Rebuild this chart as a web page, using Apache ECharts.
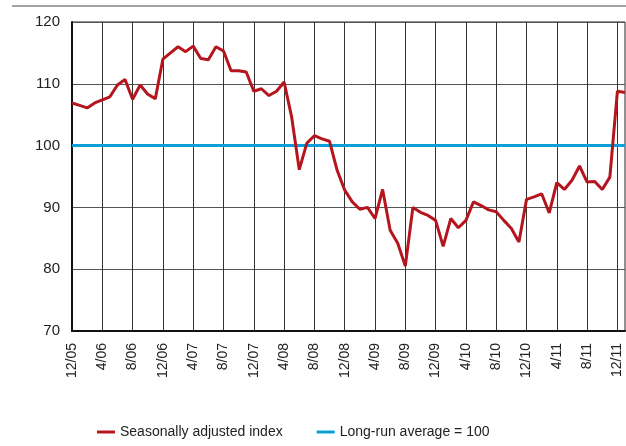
<!DOCTYPE html>
<html>
<head>
<meta charset="utf-8">
<script src="https://cdn.jsdelivr.net/npm/echarts@6/dist/echarts.min.js"></script>
<style>
  html, body { margin: 0; padding: 0; background: #fff; }
  #chart { width: 626px; height: 446px; }
</style>
</head>
<body>
<div id="chart"></div>
<script>
// monthly, 12/05 .. 1/12
var months = [
  '12/05', '1/06', '2/06', '3/06', '4/06', '5/06', '6/06', '7/06', '8/06', '9/06', '10/06', '11/06',
  '12/06', '1/07', '2/07', '3/07', '4/07', '5/07', '6/07', '7/07', '8/07', '9/07', '10/07', '11/07',
  '12/07', '1/08', '2/08', '3/08', '4/08', '5/08', '6/08', '7/08', '8/08', '9/08', '10/08', '11/08',
  '12/08', '1/09', '2/09', '3/09', '4/09', '5/09', '6/09', '7/09', '8/09', '9/09', '10/09', '11/09',
  '12/09', '1/10', '2/10', '3/10', '4/10', '5/10', '6/10', '7/10', '8/10', '9/10', '10/10', '11/10',
  '12/10', '1/11', '2/11', '3/11', '4/11', '5/11', '6/11', '7/11', '8/11', '9/11', '10/11', '11/11',
  '12/11', '1/12'
];

var seasonallyAdjusted = [
  106.9, 106.5, 106.1, 106.9, 107.4, 107.9, 109.8, 110.7, 107.5, 109.8, 108.3, 107.6,
  114.0, 115.0, 116.0, 115.2, 116.1, 114.1, 113.9, 116.0, 115.3, 112.1, 112.1, 111.9,
  108.8, 109.2, 108.1, 108.8, 110.3, 104.6, 96.1, 100.4, 101.6, 101.1, 100.7, 96.0,
  92.8, 90.9, 89.7, 90.0, 88.2, 92.9, 86.3, 84.2, 80.5, 90.0, 89.2, 88.7,
  87.9, 83.7, 88.2, 86.7, 87.9, 90.9, 90.3, 89.6, 89.3, 87.9, 86.6, 84.4,
  91.3, 91.7, 92.2, 89.1, 94.0, 92.9, 94.4, 96.7, 94.1, 94.2, 92.9, 94.9,
  108.8, 108.6
];

var longRunAverage = 100;

var yTicks = { min: 70, max: 120, step: 10 };

var font = 'Liberation Sans, Arial, sans-serif';

var chart = echarts.init(document.getElementById('chart'));

var option = {
  animation: false,
  textStyle: { fontFamily: font },
  grid: {
    left: 72, right: 1, top: 22, height: 309,
    show: true, borderColor: '#222', borderWidth: 1
  },
  graphic: [
    { type: 'line', shape: { x1: 12, y1: 6, x2: 626, y2: 6 }, style: { stroke: '#444', lineWidth: 1 } }
  ],
  legend: {
    top: 420,
    left: 92,
    itemWidth: 18,
    itemHeight: 3,
    itemGap: 34,
    icon: 'rect',
    textStyle: { fontSize: 14, color: '#222', fontFamily: font },
    data: ['Seasonally adjusted index', 'Long-run average = 100']
  },
  xAxis: {
    type: 'category',
    data: months,
    boundaryGap: false,
    axisLine: { lineStyle: { color: '#111', width: 2 } },
    axisTick: { show: false },
    axisLabel: {
      interval: 3,
      rotate: 90,
      margin: 12,
      fontSize: 14,
      color: '#222',
      fontFamily: font
    },
    splitLine: { show: true, interval: 3, lineStyle: { color: '#333', width: 1 } }
  },
  yAxis: {
    type: 'value',
    min: yTicks.min,
    max: yTicks.max,
    interval: yTicks.step,
    axisLine: { show: true, lineStyle: { color: '#111', width: 2 } },
    axisTick: { show: false },
    axisLabel: { fontSize: 15, color: '#222', margin: 12, fontFamily: font },
    splitLine: { lineStyle: { color: '#555', width: 1 } }
  },
  series: [
    {
      name: 'Long-run average = 100',
      type: 'line',
      data: [],
      color: '#0a9fd8',
      lineStyle: { color: '#0a9fd8', width: 3 },
      markLine: {
        silent: true,
        symbol: 'none',
        label: { show: false },
        lineStyle: { color: '#0a9fd8', width: 3, type: 'solid' },
        data: [{ yAxis: longRunAverage }]
      }
    },
    {
      name: 'Seasonally adjusted index',
      type: 'line',
      data: seasonallyAdjusted,
      color: '#b5161e',
      showSymbol: false,
      lineStyle: { color: '#b5161e', width: 3 },
      z: 5
    }
  ]
};

chart.setOption(option);
</script>
</body>
</html>
